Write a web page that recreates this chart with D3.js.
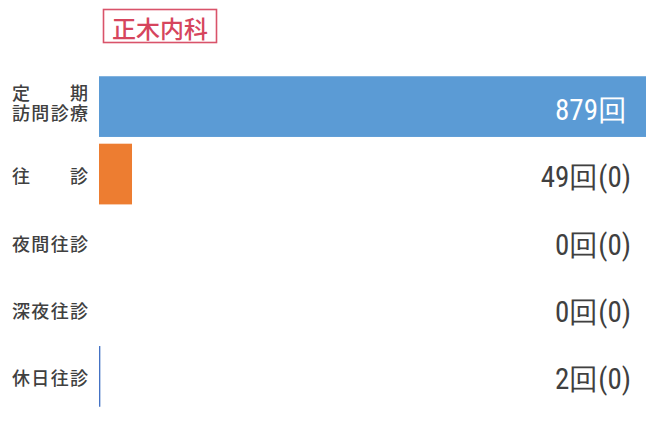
<!DOCTYPE html>
<html>
<head>
<meta charset="utf-8">
<script src="https://cdn.jsdelivr.net/npm/d3@7"></script>
<style>
  html, body { margin: 0; padding: 0; background: #fff; }
  svg { display: block; }
</style>
</head>
<body>
<div id="chart"></div>
<script>
const title = "正木内科";
const categories = ["定期訪問診療", "往診", "夜間往診", "深夜往診", "休日往診"];
// label lines as printed (spread over the label width)
const labelLines = [["定期", "訪問診療"], ["往診"], ["夜間往診"], ["深夜往診"], ["休日往診"]];
const counts = [879, 49, 0, 0, 2];
const subCounts = [null, 0, 0, 0, 0];
const barColors = ["#5b9bd5", "#ed7d31", "#a5a5a5", "#ffc000", "#4472c4"];
const xMax = 812;

const width = 648;
const height = 445;
const margin = { left: 99, right: 2, top: 69.5, bottom: 31.5 };

const svg = d3.select("#chart").append("svg")
    .attr("width", width)
    .attr("height", height);

const xScaler = d3.scaleLinear()
    .domain([0, xMax])
    .range([margin.left, width - margin.right])
    .clamp(true);

const yScaler = d3.scaleBand()
    .domain(categories)
    .range([margin.top, height - margin.bottom])
    .padding(0.1);

// title box
const titleG = svg.append("g");
titleG.append("rect")
    .attr("x", 103.5)
    .attr("y", 9.5)
    .attr("width", 113)
    .attr("height", 33)
    .attr("fill", "none")
    .attr("stroke", "#d9536a")
    .attr("stroke-width", 1.6);
titleG.append("text")
    .attr("x", 160)
    .attr("y", 27)
    .attr("text-anchor", "middle")
    .attr("dominant-baseline", "central")
    .attr("font-family", "'Noto Sans CJK JP', sans-serif")
    .attr("font-size", "24px")
    .attr("font-weight", 500)
    .attr("fill", "#d6455d")
    .text(title);

// bars
svg.append("g").selectAll("rect")
    .data(categories)
    .join("rect")
    .attr("x", xScaler(0))
    .attr("y", d => yScaler(d))
    .attr("width", (d, i) => xScaler(counts[i]) - xScaler(0))
    .attr("height", yScaler.bandwidth())
    .attr("fill", (d, i) => barColors[i]);

// category labels (one text per category, a tspan per line)
const labelG = svg.append("g")
    .attr("font-family", "'Noto Sans CJK JP', sans-serif")
    .attr("font-size", "18px")
    .attr("font-weight", 500)
    .attr("fill", "#404040");

categories.forEach((c, i) => {
    const lines = labelLines[i];
    const cy = yScaler(c) + yScaler.bandwidth() / 2 + (lines.length > 1 ? -5 : 1);
    const label = labelG.append("text")
        .attr("dominant-baseline", "central");
    lines.forEach((line, j) => {
        const dy = (j - (lines.length - 1) / 2) * 20;
        label.append("tspan")
            .attr("x", 12)
            .attr("y", cy + dy)
            .attr("textLength", 76)
            .attr("lengthAdjust", "spacing")
            .text(line);
    });
});

// value labels
svg.append("g").selectAll("text")
    .data(categories)
    .join("text")
    .attr("x", (d, i) => i === 0 ? 627 : 631)
    .attr("y", d => yScaler(d) + yScaler.bandwidth() / 2 + 3)
    .attr("text-anchor", "end")
    .attr("dominant-baseline", "central")
    .attr("font-family", "'Roboto Condensed', 'Liberation Sans Narrow', 'DejaVu Sans Condensed', Roboto, sans-serif")
    .attr("font-stretch", "condensed")
    .attr("font-size", "29px")
    .attr("fill", (d, i) => i === 0 ? "#ffffff" : "#404040")
    .text((d, i) => counts[i] + "回" + (subCounts[i] === null ? "" : "(" + subCounts[i] + ")"));
</script>
</body>
</html>
